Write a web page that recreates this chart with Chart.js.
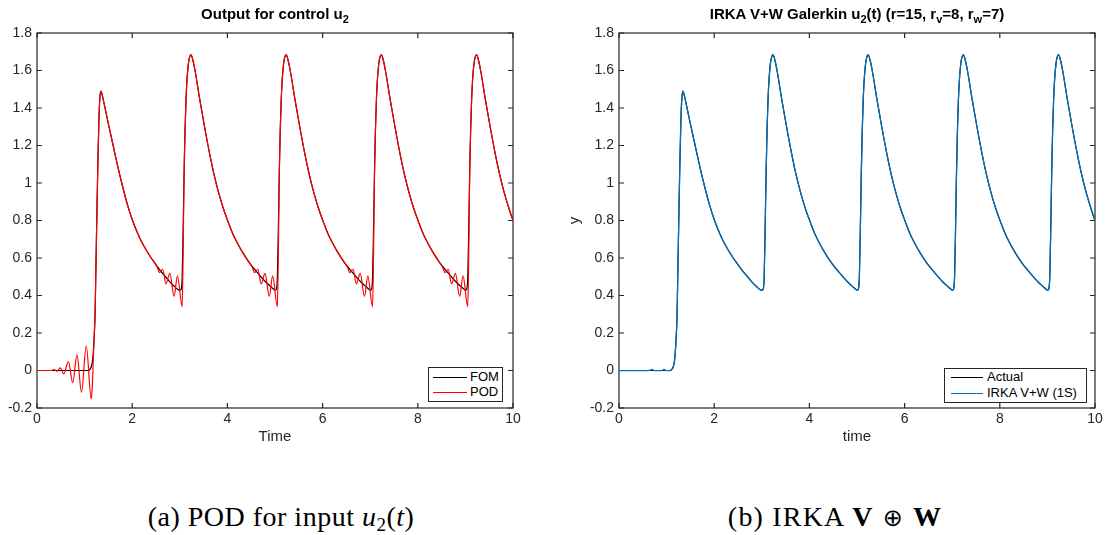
<!DOCTYPE html>
<html>
<head>
<meta charset="utf-8">
<script src="https://cdn.jsdelivr.net/npm/chart.js@4.4.1/dist/chart.umd.min.js"></script>
<style>
  body {
    margin: 0;
    background: #fff;
    width: 1107px;
    height: 535px;
    overflow: hidden;
    position: relative;
    font-family: "Liberation Sans", Arial, Helvetica, sans-serif;
    color: #262626;
  }
  canvas { position: absolute; top: 0; }
  #podChart { left: 0; }
  #irkaChart { left: 553px; }

  .plot-title {
    position: absolute;
    top: 5px;
    font-size: 15px;
    line-height: 17px;
    font-weight: bold;
    color: #000;
    white-space: nowrap;
    transform: translateX(-50%);
  }
  .plot-title sub { font-size: 11px; line-height: 0; vertical-align: -4px; }

  .legend {
    position: absolute;
    box-sizing: border-box;
    border: 1px solid #262626;
    background: #fff;
    font-size: 13px;
    line-height: 15px;
    color: #000;
  }
  .legend .swatch { position: absolute; height: 1px; }
  .legend .label { position: absolute; white-space: nowrap; }

  .caption {
    position: absolute;
    top: 501px;
    font-family: "Liberation Serif", "DejaVu Serif", serif;
    font-size: 28px;
    line-height: 32px;
    letter-spacing: 0.5px;
    color: #000;
    white-space: nowrap;
    transform: translateX(-50%);
  }
  .caption.wide { letter-spacing: 1.2px; }
  .caption sub { font-size: 19px; line-height: 0; vertical-align: -5px; }
  .caption .oplus { font-family: "DejaVu Sans", sans-serif; font-weight: normal; font-size: 24px; margin: 0 9px; }
</style>
</head>
<body>

<canvas id="podChart" width="553" height="470" style="width:553px;height:470px"></canvas>
<canvas id="irkaChart" width="554" height="470" style="width:554px;height:470px"></canvas>

<div class="plot-title" style="left:275px">Output for control u<sub>2</sub></div>
<div class="plot-title" style="left:857px">IRKA V+W Galerkin u<sub>2</sub>(t) (r=15, r<sub>v</sub>=8, r<sub>w</sub>=7)</div>

<div class="legend" style="left:428px; top:367px; width:75px; height:35px">
  <div class="swatch" style="left:4px; top:9px; width:34px; background:#000"></div>
  <div class="label" style="left:41px; top:1px">FOM</div>
  <div class="swatch" style="left:4px; top:24px; width:34px; background:#ff0000"></div>
  <div class="label" style="left:41px; top:16px">POD</div>
</div>

<div class="legend" style="left:944px; top:368px; width:143px; height:35px">
  <div class="swatch" style="left:6px; top:8px; width:32px; background:#000"></div>
  <div class="label" style="left:42px; top:0px">Actual</div>
  <div class="swatch" style="left:6px; top:24px; width:32px; background:#0072bd"></div>
  <div class="label" style="left:42px; top:16px">IRKA V+W (1S)</div>
</div>

<div class="caption" style="left:281px">(a) POD for input <i>u</i><sub>2</sub>(<i>t</i>)</div>
<div class="caption wide" style="left:835px">(b) IRKA <b>V</b><span class="oplus">&oplus;</span><b>W</b></div>

<script>
// ---- data -------------------------------------------------------------
const xTicks = [0, 2, 4, 6, 8, 10];
const yTicks = [-0.2, 0, 0.2, 0.4, 0.6, 0.8, 1, 1.2, 1.4, 1.6, 1.8];

// full order model output
const fomTime = [
  0, 0.5, 1.0, 1.06, 1.10, 1.14, 1.17, 1.20, 1.22, 1.24, 1.26, 1.28, 1.30, 1.32, 1.345,
  1.37, 1.40, 1.45, 1.50, 1.60, 1.70, 1.80, 1.90, 2.00, 2.10, 2.20, 2.30, 2.40, 2.50, 2.60, 2.70, 2.80, 2.90, 2.96, 3.00,
  3.03, 3.05, 3.07, 3.09, 3.11, 3.13, 3.15, 3.18, 3.21, 3.235,
  3.27, 3.32, 3.42, 3.52, 3.62, 3.72, 3.82, 3.92, 4.02, 4.12, 4.22, 4.32, 4.42, 4.52, 4.62, 4.72, 4.82, 4.92, 4.98, 5.01,
  5.03, 5.05, 5.07, 5.09, 5.11, 5.13, 5.15, 5.18, 5.21, 5.235,
  5.27, 5.32, 5.42, 5.52, 5.62, 5.72, 5.82, 5.92, 6.02, 6.12, 6.22, 6.32, 6.42, 6.52, 6.62, 6.72, 6.82, 6.92, 6.98, 7.01,
  7.03, 7.05, 7.07, 7.09, 7.11, 7.13, 7.15, 7.18, 7.21, 7.235,
  7.27, 7.32, 7.42, 7.52, 7.62, 7.72, 7.82, 7.92, 8.02, 8.12, 8.22, 8.32, 8.42, 8.52, 8.62, 8.72, 8.82, 8.92, 8.98, 9.01,
  9.03, 9.05, 9.07, 9.09, 9.11, 9.13, 9.15, 9.18, 9.21, 9.235,
  9.27, 9.32, 9.42, 9.52, 9.62, 9.72, 9.82, 9.92, 10.0
];
const fomOutput = [
  0, 0, 0, 0, 0.003, 0.02, 0.06, 0.17, 0.30, 0.58, 0.86, 1.12, 1.33, 1.45, 1.49,
  1.47, 1.435, 1.375, 1.315, 1.20, 1.085, 0.98, 0.885, 0.805, 0.74, 0.685, 0.64, 0.60, 0.565, 0.53, 0.50, 0.47, 0.445, 0.432, 0.428,
  0.435, 0.50, 0.75, 1.05, 1.28, 1.44, 1.545, 1.635, 1.675, 1.683,
  1.66, 1.60, 1.445, 1.30, 1.165, 1.045, 0.945, 0.86, 0.79, 0.725, 0.675, 0.63, 0.59, 0.555, 0.525, 0.495, 0.468, 0.445, 0.432, 0.428,
  0.435, 0.50, 0.75, 1.05, 1.28, 1.44, 1.545, 1.635, 1.675, 1.683,
  1.66, 1.60, 1.445, 1.30, 1.165, 1.045, 0.945, 0.86, 0.79, 0.725, 0.675, 0.63, 0.59, 0.555, 0.525, 0.495, 0.468, 0.445, 0.432, 0.428,
  0.435, 0.50, 0.75, 1.05, 1.28, 1.44, 1.545, 1.635, 1.675, 1.683,
  1.66, 1.60, 1.445, 1.30, 1.165, 1.045, 0.945, 0.86, 0.79, 0.725, 0.675, 0.63, 0.59, 0.555, 0.525, 0.495, 0.468, 0.445, 0.432, 0.428,
  0.435, 0.50, 0.75, 1.05, 1.28, 1.44, 1.545, 1.635, 1.675, 1.683,
  1.66, 1.60, 1.445, 1.30, 1.165, 1.045, 0.945, 0.86, 0.80
];

// POD reduced model output (rings before each switch)
const podTime = [
  0, 0.30, 0.36, 0.42, 0.49, 0.56, 0.66, 0.75, 0.84, 0.935, 1.035, 1.14, 1.16, 1.18, 1.20, 1.22, 1.24, 1.26, 1.28, 1.30, 1.32, 1.345,
  1.37, 1.40, 1.45, 1.50, 1.60, 1.70, 1.80, 1.90, 2.00, 2.10, 2.20, 2.30, 2.40,
  2.45, 2.50, 2.53, 2.57, 2.64, 2.71, 2.79, 2.88, 2.95, 3.05, 3.07, 3.09,
  3.11, 3.13, 3.15, 3.18, 3.21, 3.235,
  3.27, 3.32, 3.42, 3.52, 3.62, 3.72, 3.82, 3.92, 4.02, 4.12, 4.22, 4.32, 4.42,
  4.45, 4.50, 4.53, 4.57, 4.64, 4.71, 4.79, 4.88, 4.95, 5.05, 5.07, 5.09,
  5.11, 5.13, 5.15, 5.18, 5.21, 5.235,
  5.27, 5.32, 5.42, 5.52, 5.62, 5.72, 5.82, 5.92, 6.02, 6.12, 6.22, 6.32, 6.42,
  6.45, 6.50, 6.53, 6.57, 6.64, 6.71, 6.79, 6.88, 6.95, 7.05, 7.07, 7.09,
  7.11, 7.13, 7.15, 7.18, 7.21, 7.235,
  7.27, 7.32, 7.42, 7.52, 7.62, 7.72, 7.82, 7.92, 8.02, 8.12, 8.22, 8.32, 8.42,
  8.45, 8.50, 8.53, 8.57, 8.64, 8.71, 8.79, 8.88, 8.95, 9.05, 9.07, 9.09,
  9.11, 9.13, 9.15, 9.18, 9.21, 9.235,
  9.27, 9.32, 9.42, 9.52, 9.62, 9.72, 9.82, 9.92, 10.0
];
const podOutput = [
  0, 0, 0.005, -0.004, 0.014, -0.018, 0.047, -0.065, 0.083, -0.116, 0.132, -0.152, -0.09, 0.04, 0.18, 0.30, 0.58, 0.86, 1.12, 1.33, 1.45, 1.49,
  1.47, 1.435, 1.375, 1.315, 1.20, 1.085, 0.98, 0.885, 0.805, 0.74, 0.685, 0.64, 0.60,
  0.582, 0.562, 0.548, 0.522, 0.54, 0.462, 0.518, 0.395, 0.505, 0.34, 0.62, 1.05,
  1.28, 1.44, 1.545, 1.635, 1.675, 1.683,
  1.66, 1.60, 1.445, 1.30, 1.165, 1.045, 0.945, 0.86, 0.79, 0.725, 0.675, 0.63, 0.59,
  0.578, 0.56, 0.547, 0.522, 0.54, 0.462, 0.518, 0.395, 0.505, 0.34, 0.62, 1.05,
  1.28, 1.44, 1.545, 1.635, 1.675, 1.683,
  1.66, 1.60, 1.445, 1.30, 1.165, 1.045, 0.945, 0.86, 0.79, 0.725, 0.675, 0.63, 0.59,
  0.578, 0.56, 0.547, 0.522, 0.54, 0.462, 0.518, 0.395, 0.505, 0.34, 0.62, 1.05,
  1.28, 1.44, 1.545, 1.635, 1.675, 1.683,
  1.66, 1.60, 1.445, 1.30, 1.165, 1.045, 0.945, 0.86, 0.79, 0.725, 0.675, 0.63, 0.59,
  0.578, 0.56, 0.547, 0.522, 0.54, 0.462, 0.518, 0.395, 0.505, 0.34, 0.62, 1.05,
  1.28, 1.44, 1.545, 1.635, 1.675, 1.683,
  1.66, 1.60, 1.445, 1.30, 1.165, 1.045, 0.945, 0.86, 0.80
];

// IRKA V+W output: small blips before the first switch, then on top of the FOM
const irkaStartTime = [0, 0.60, 0.66, 0.70, 0.74, 0.90, 0.945, 0.99, 1.06];
const irkaStartOutput = [0, 0, 0.002, 0.006, 0, 0, 0.006, 0, 0];
const irkaTime = irkaStartTime.concat(fomTime.slice(4));
const irkaOutput = irkaStartOutput.concat(fomOutput.slice(4));

// ---- helpers ----------------------------------------------------------
Chart.defaults.font.family = '"Liberation Sans", Arial, Helvetica, sans-serif';
Chart.defaults.color = '#262626';

function toPoints(times, values) {
  return times.map((t, i) => ({ x: t, y: values[i] }));
}

// matlab style tick text: 1 instead of 1.0, 0 instead of 0.0
function tickLabel(value) {
  return String(Number(Number(value).toFixed(1)));
}

// box around the axes with ticks pointing inwards on all four sides
const axesBox = {
  id: 'axesBox',
  beforeDatasetsDraw(chart) {
    const { ctx, chartArea: a, scales: { x, y } } = chart;
    ctx.save();
    ctx.strokeStyle = '#262626';
    ctx.lineWidth = 1.2;
    ctx.strokeRect(a.left, a.top, a.right - a.left, a.bottom - a.top);
    ctx.beginPath();
    xTicks.forEach(v => {
      const px = x.getPixelForValue(v);
      ctx.moveTo(px, a.bottom); ctx.lineTo(px, a.bottom - 5);
      ctx.moveTo(px, a.top); ctx.lineTo(px, a.top + 5);
    });
    yTicks.forEach(v => {
      const py = y.getPixelForValue(v);
      ctx.moveTo(a.left, py); ctx.lineTo(a.left + 5, py);
      ctx.moveTo(a.right, py); ctx.lineTo(a.right - 5, py);
    });
    ctx.stroke();
    ctx.restore();
  }
};

function makeScales(xTitle, yTitle, yAxisWidth) {
  return {
    x: {
      type: 'linear',
      min: 0,
      max: 10,
      afterBuildTicks: scale => { scale.ticks = xTicks.map(v => ({ value: v })); },
      afterFit: scale => { scale.height = 38; },
      grid: { display: false, drawTicks: false },
      border: { display: false },
      ticks: { padding: 3, autoSkip: false, maxRotation: 0, font: { size: 14 }, callback: tickLabel },
      title: { display: true, text: xTitle, font: { size: 15 }, padding: 0 }
    },
    y: {
      type: 'linear',
      min: -0.2,
      max: 1.8,
      afterBuildTicks: scale => { scale.ticks = yTicks.map(v => ({ value: v })); },
      afterFit: scale => { scale.width = yAxisWidth; },
      grid: { display: false, drawTicks: false },
      border: { display: false },
      ticks: { padding: 5, autoSkip: false, font: { size: 14 }, callback: tickLabel },
      title: { display: !!yTitle, text: yTitle, font: { size: 15 }, padding: { top: 13, bottom: 0 } }
    }
  };
}

function lineDataset(label, times, values, color, width, order) {
  return {
    label: label,
    data: toPoints(times, values),
    borderColor: color,
    backgroundColor: color,
    borderWidth: width,
    pointRadius: 0,
    cubicInterpolationMode: 'monotone',
    fill: false,
    order: order
  };
}

function baseOptions(padding, xTitle, yTitle, yAxisWidth) {
  return {
    responsive: false,
    animation: false,
    devicePixelRatio: 1,
    layout: { padding: padding },
    scales: makeScales(xTitle, yTitle, yAxisWidth),
    plugins: {
      legend: { display: false },
      tooltip: { enabled: false },
      title: { display: false }
    }
  };
}

// ---- (a) POD for input u2 --------------------------------------------
new Chart(document.getElementById('podChart'), {
  type: 'line',
  data: {
    datasets: [
      lineDataset('POD', podTime, podOutput, '#ff0000', 1.2, 0),
      lineDataset('FOM', fomTime, fomOutput, '#000000', 1.2, 1)
    ]
  },
  options: baseOptions({ top: 33, left: 0, right: 40, bottom: 24 }, 'Time', '', 37),
  plugins: [axesBox]
});

// ---- (b) IRKA V+W -----------------------------------------------------
new Chart(document.getElementById('irkaChart'), {
  type: 'line',
  data: {
    datasets: [
      lineDataset('IRKA V+W (1S)', irkaTime, irkaOutput, '#0072bd', 1.25, 0),
      lineDataset('Actual', fomTime, fomOutput, '#000000', 1.2, 1)
    ]
  },
  options: baseOptions({ top: 33, left: 0, right: 12, bottom: 24 }, 'time', 'y', 66),
  plugins: [axesBox]
});
</script>
</body>
</html>
